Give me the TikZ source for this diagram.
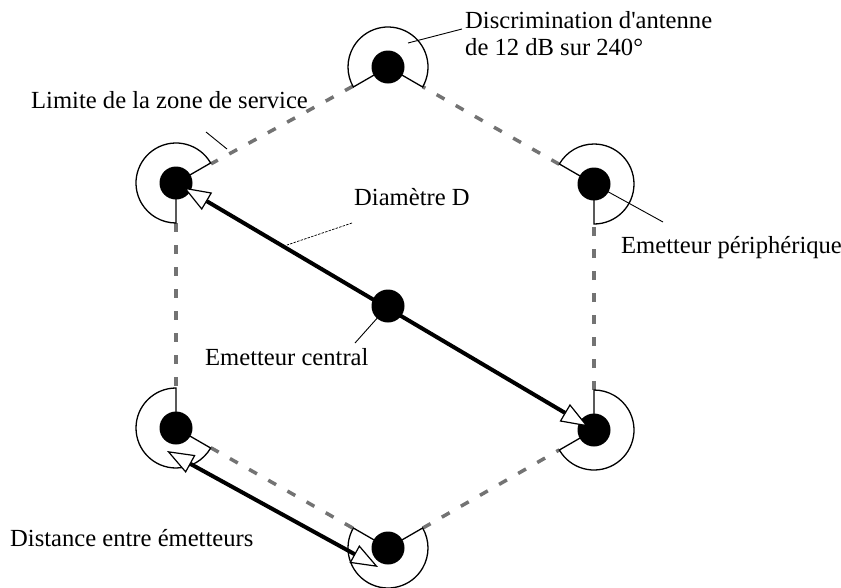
\documentclass[tikz,border=0pt]{standalone}
\usepackage{fontspec}
\setmainfont{Liberation Serif}
\usetikzlibrary{arrows.meta,calc}
\begin{document}
\begin{tikzpicture}[x=1pt,y=1pt,
  station/.style={circle,fill=black,inner sep=0pt,minimum size=33pt},
  sector/.style={line width=1.3pt},
  boundary/.style={line width=3.5pt,black!55,dash pattern=on 9pt off 13pt},
  leader/.style={line width=0.9pt},
  dimleader/.style={line width=0.7pt,dash pattern=on 2.5pt off 1.2pt},
  opentip/.tip={Triangle[open,fill=white,line width=1.2pt,length=27pt,width=20pt]},
  span/.style={line width=4pt,opentip-opentip},
  label/.style={font=\fontsize{24.6}{27}\selectfont,anchor=base west,inner sep=0pt}]

\useasboundingbox (0,0) rectangle (841,-587);

% transmitter sites
\coordinate (pT)  at (388,-67);
\coordinate (pUL) at (176,-183);
\coordinate (pUR) at (594,-184);
\coordinate (pC)  at (388,-306);
\coordinate (pLL) at (176,-428);
\coordinate (pLR) at (594,-430);
\coordinate (pB)  at (388,-548);

% service area boundary (dashed hexagon)
\foreach \a/\b in {pT/pUL,pUL/pLL,pLL/pB,pB/pLR,pLR/pUR,pUR/pT}
  \draw[boundary] ($(\a)!40pt!(\b)$) -- ($(\b)!40pt!(\a)$);

% antenna patterns: 240 degree sectors open towards the centre
\foreach \s/\g in {pT/-90,pUL/-30,pUR/210,pLL/30,pLR/150,pB/90}{
  \pgfmathsetmacro{\sa}{\g+60}
  \pgfmathsetmacro{\ea}{\g+300}
  \draw[sector] (\s) -- ++(\sa:40) arc[start angle=\sa,end angle=\ea,radius=40] -- cycle;
}

% leader lines
\coordinate (discA) at (408,-43);
\coordinate (discB) at (462,-29);
\coordinate (limA)  at (206,-132);
\coordinate (limB)  at (227,-149);
\coordinate (diamA) at (352,-223);
\coordinate (diamB) at (287,-245);
\coordinate (periB) at (663,-222);
\coordinate (cenB)  at (355,-343);
\draw[leader] (discA) -- (discB);
\draw[leader] (limA) -- (limB);
\draw[dimleader] (diamA) -- (diamB);
\draw[leader] (pUR) -- (periB);
\draw[leader] (pC) -- (cenB);

% transmitters
\node[station] (T)  at (pT)  {};
\node[station] (UL) at (pUL) {};
\node[station] (UR) at (pUR) {};
\node[station] (C)  at (pC)  {};
\node[station] (LL) at (pLL) {};
\node[station] (LR) at (pLR) {};
\node[station] (B)  at (pB)  {};

% diameter and spacing
\draw[span,shorten <=9pt,shorten >=7pt] (UL.center) -- (LR.center);
\coordinate (d1) at (167,-451);
\coordinate (d2) at (378,-567);
\draw[span] (d1) -- (d2);

% labels
\node[label] (disc1) at (465,-28) {Discrimination d\textquotesingle antenne};
\node[label] (disc2) at (465,-55) {de 12 dB sur 240°};
\node[label] (limit) at (31,-108) {Limite de la zone de service};
\node[label] (diam)  at (354,-205) {Diamètre D};
\node[label] (peri)  at (621,-253) {Emetteur périphérique};
\node[label] (cen)   at (205,-365) {Emetteur central};
\node[label] (dist)  at (10,-546) {Distance entre émetteurs};
\end{tikzpicture}
\end{document}
